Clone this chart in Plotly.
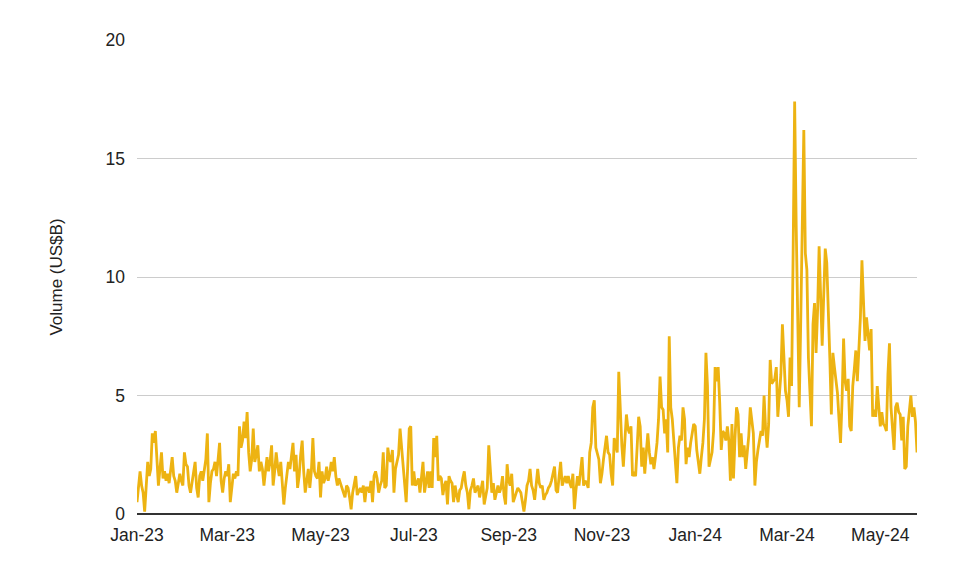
import pandas as pd
import plotly.graph_objects as go

start_date = "2023-01-01"

jan23 = [0.5, 1.1, 1.8, 1.2, 0.9, 0.1, 1.4, 2.2, 1.6, 1.9, 3.4, 3.0, 3.5, 2.1, 1.2, 1.9, 2.6, 1.5, 1.8, 1.4,
         1.7, 1.3, 1.9, 2.4, 1.6, 1.4, 0.9, 1.3, 1.7, 1.4, 1.2]
feb23 = [2.6, 2.1, 2.0, 1.2, 0.9, 1.4, 1.7, 2.2, 1.1, 0.7, 1.6, 1.8, 1.4, 1.9, 2.3, 3.4, 0.5, 1.3, 1.8, 1.9,
         2.2, 1.6, 2.2, 3.0, 1.4, 0.9, 1.5, 1.8]
mar23 = [1.6, 2.1, 0.5, 1.2, 1.7, 1.5, 1.8, 1.6, 3.7, 2.8, 3.1, 3.9, 3.2, 4.3, 2.6, 1.8, 2.3, 3.6, 2.2, 2.5,
         2.9, 1.8, 2.2, 1.9, 1.2, 1.8, 2.4, 1.8, 2.2, 2.9, 1.2]
apr23 = [1.8, 2.6, 2.0, 1.6, 2.2, 1.3, 0.4, 1.1, 1.7, 2.2, 1.9, 2.5, 3.0, 1.8, 2.5, 1.1, 1.6, 2.5, 3.1, 1.8,
         0.9, 1.4, 1.9, 1.1, 1.8, 3.2, 1.8, 1.6, 1.5, 2.2]
may23 = [0.7, 1.8, 1.3, 1.5, 2.0, 1.4, 1.7, 2.2, 1.8, 2.4, 1.6, 1.2, 1.5, 1.3, 1.1, 0.8, 0.7, 1.2, 1.1, 0.7,
         0.2, 0.9, 1.2, 1.6, 0.8, 1.0, 1.1, 0.9, 1.2, 0.5, 1.1]
jun23 = [1.1, 0.9, 1.4, 0.5, 1.6, 1.8, 1.5, 0.9, 1.2, 1.4, 2.6, 1.1, 1.2, 2.8, 2.3, 2.2, 2.7, 0.9, 1.9, 2.2,
         2.5, 3.6, 2.8, 2.0, 1.4, 0.5, 2.0, 3.6, 3.7, 1.2]
jul23 = [1.8, 1.2, 1.3, 1.5, 0.9, 1.7, 2.2, 0.9, 1.4, 1.8, 1.1, 1.8, 1.1, 3.2, 2.4, 3.3, 1.4, 1.6, 1.5, 0.8,
         1.2, 1.4, 0.4, 1.6, 1.4, 1.3, 0.5, 1.2, 0.8, 0.5, 1.0]
aug23 = [1.1, 1.5, 1.8, 1.2, 0.9, 0.2, 1.0, 1.2, 1.5, 0.9, 1.1, 1.2, 0.7, 1.0, 1.4, 0.4, 0.8, 1.1, 2.9, 1.8,
         0.9, 1.3, 0.6, 0.9, 1.2, 0.9, 1.1, 1.6, 0.8, 0.4, 2.1]
sep23 = [1.4, 1.2, 1.7, 0.5, 0.7, 0.9, 1.1, 1.0, 0.9, 0.5, 0.1, 0.6, 1.2, 1.4, 1.9, 1.2, 1.0, 0.6, 1.3, 1.9,
         1.3, 1.1, 1.2, 0.6, 0.8, 0.9, 1.1, 1.2, 1.4, 1.7]
oct23 = [2.0, 1.0, 0.9, 1.6, 2.2, 1.2, 1.4, 1.6, 1.3, 1.6, 1.3, 1.1, 1.7, 0.2, 1.0, 1.6, 1.2, 1.7, 2.4, 1.2,
         1.4, 1.3, 1.1, 2.6, 3.0, 4.5, 4.8, 2.8, 2.5, 2.3, 1.3]
nov23 = [1.7, 2.3, 2.8, 3.3, 2.6, 2.5, 1.7, 1.2, 3.2, 2.9, 2.6, 6.0, 4.0, 2.9, 2.0, 3.1, 4.2, 3.6, 3.4, 3.7,
         1.6, 1.7, 1.6, 2.8, 4.1, 3.7, 2.0, 2.8, 1.7, 2.6]
dec23 = [3.4, 2.6, 2.1, 2.4, 1.9, 2.4, 3.0, 4.0, 5.8, 4.5, 4.4, 3.4, 4.0, 2.6, 7.5, 4.5, 4.0, 3.1, 2.2, 1.3,
         2.8, 3.3, 3.1, 4.5, 4.0, 2.1, 2.8, 2.4, 3.0, 3.4, 3.8]
jan24 = [3.7, 2.7, 2.2, 1.7, 2.4, 3.0, 4.0, 6.8, 5.4, 2.0, 2.3, 2.6, 3.5, 6.2, 5.6, 6.2, 4.7, 2.7, 3.5, 3.4,
         3.1, 3.7, 3.1, 1.4, 3.8, 1.5, 3.2, 4.5, 4.2, 2.4, 3.4]
feb24 = [2.4, 2.9, 1.9, 2.6, 3.3, 4.5, 3.8, 3.4, 1.2, 2.2, 2.7, 3.2, 3.5, 3.3, 5.0, 3.6, 2.8, 3.8, 6.5, 5.5,
         5.6, 5.7, 6.2, 4.1, 5.0, 5.9, 8.0, 6.6, 5.2]
mar24 = [4.8, 4.1, 6.6, 5.4, 11.0, 17.4, 12.2, 8.0, 4.5, 8.2, 12.5, 16.2, 11.0, 10.3, 6.6, 5.2, 3.7, 8.0, 8.9, 6.8,
         8.6, 11.3, 9.4, 7.1, 9.2, 11.2, 10.6, 8.0, 6.6, 4.2, 6.8]
apr24 = [6.2, 5.6, 5.1, 4.0, 3.0, 4.8, 7.4, 5.6, 5.2, 5.7, 3.7, 3.5, 5.4, 6.1, 6.9, 5.6, 6.8, 8.3, 10.7, 8.7,
         7.3, 8.3, 7.7, 6.9, 7.8, 4.1, 4.4, 4.1, 5.4, 4.3]
may24 = [3.7, 4.3, 3.8, 3.7, 3.5, 5.9, 7.2, 4.5, 3.4, 2.7, 4.5, 4.7, 4.3, 4.2, 3.1, 4.1, 1.9, 2.0, 3.7, 4.4,
         5.0, 4.1, 4.5, 3.9, 2.6]

volume = (jan23 + feb23 + mar23 + apr23 + may23 + jun23 + jul23 + aug23 + sep23 + oct23 + nov23 + dec23
          + jan24 + feb24 + mar24 + apr24 + may24)
dates = pd.date_range(start_date, periods=len(volume), freq="D")

y_ticks = [0, 5, 10, 15, 20]

font_family = "Arial, 'Liberation Sans', sans-serif"

fig = go.Figure()
fig.add_trace(go.Scatter(
    x=dates, y=volume, mode="lines",
    line=dict(color="#EDB312", width=2.8),
    hoverinfo="x+y",
))

fig.update_layout(
    width=958, height=568,
    margin=dict(l=137, r=41, t=40, b=54),
    paper_bgcolor="white", plot_bgcolor="white",
    showlegend=False,
    font=dict(family=font_family, size=17, color="#222222"),
)
fig.update_xaxes(
    range=[dates[0], dates[-1]],
    tickformat="%b-%y", dtick="M2", tick0=start_date,
    showgrid=False, showline=False, zeroline=False,
    ticks="", ticklabelstandoff=8,
    tickfont=dict(size=17.5, color="#222222"),
)
fig.update_yaxes(
    range=[0, 20], tickvals=y_ticks,
    showgrid=True, gridcolor="#cccccc", gridwidth=1,
    zeroline=True, zerolinecolor="#333333", zerolinewidth=2,
    showline=False, ticks="", ticklabelstandoff=11,
    tickfont=dict(size=17.5, color="#222222"),
    title=dict(text="Volume (US$B)", font=dict(size=17, color="#222222"), standoff=38),
)

fig.write_html("out.html")
